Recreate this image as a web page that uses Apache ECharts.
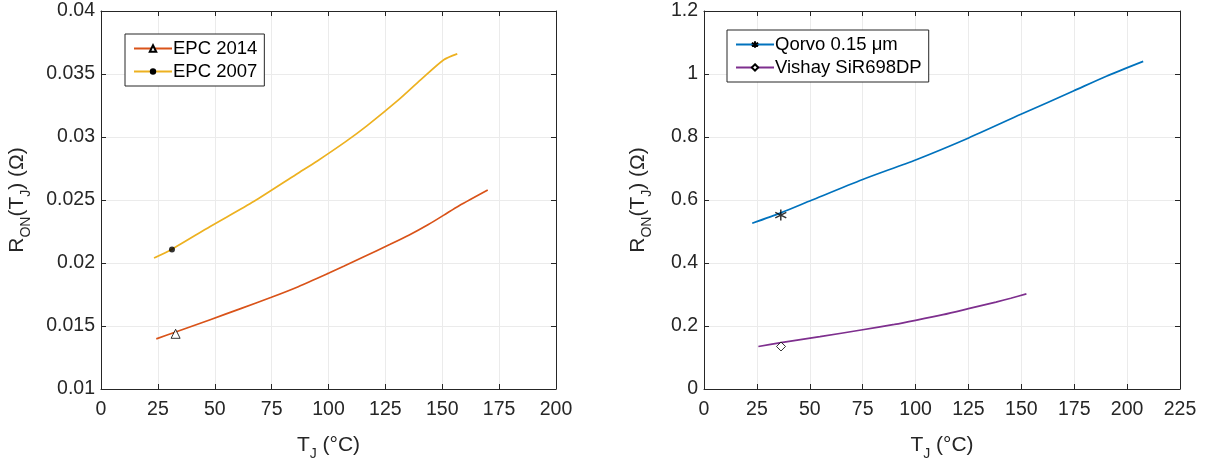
<!DOCTYPE html>
<html>
<head>
<meta charset="utf-8">
<script src="https://cdn.jsdelivr.net/npm/echarts@6/dist/echarts.min.js"></script>
<style>
html,body{margin:0;padding:0;background:#fff;}
#c{width:1217px;height:466px;}
</style>
</head>
<body>
<div id="c"></div>
<script>
// ---- data ----
const epc2014T = [24.3, 32.5, 48, 61.4, 74.9, 86.7, 100.2, 106.9, 115.3, 127.1, 135.5, 143.9, 150.7, 157.4, 170];
const epc2014R = [0.01398, 0.01450, 0.01550, 0.01638, 0.01728, 0.01812, 0.01920, 0.01976, 0.02048, 0.02148, 0.02222, 0.02305, 0.02380, 0.02455, 0.0258];
const epc2007T = [23.3, 31.2, 48, 67.3, 85.9, 95.1, 107.7, 117, 130.5, 140.6, 150.7, 156.6];
const epc2007R = [0.0204, 0.0211, 0.0229, 0.0249, 0.02705, 0.0281, 0.02965, 0.0309, 0.0329, 0.03455, 0.03613, 0.0366];
const qorvoT = [22.8, 36.3, 50.8, 75, 100.3, 125.1, 149.8, 174.6, 190.2, 207.6];
const qorvoR = [0.526, 0.559, 0.599, 0.665, 0.728, 0.797, 0.872, 0.946, 0.993, 1.04];
const vishayT = [25.7, 36.4, 54.8, 75, 90, 100, 113, 125, 138, 145, 152.4];
const vishayR = [0.135, 0.147, 0.166, 0.188, 0.205, 0.218, 0.236, 0.255, 0.276, 0.288, 0.302];
// measured markers [T, R]
const epc2014Mark = [32.8, 0.01438];
const epc2007Mark = [31.2, 0.02107];
const qorvoMark = [36.3, 0.552];
const vishayMark = [36.4, 0.135];
// ticks
const leftXTicks = ['0','25','50','75','100','125','150','175','200'];
const leftYTicks = ['0.01','0.015','0.02','0.025','0.03','0.035','0.04'];
const rightXTicks = ['0','25','50','75','100','125','150','175','200','225'];
const rightYTicks = ['0','0.2','0.4','0.6','0.8','1','1.2'];
const names = ['EPC 2014', 'EPC 2007', 'Qorvo 0.15 μm', 'Vishay SiR698DP'];

const pair = (a, b) => a.map((v, i) => [v, b[i]]);
const fmt = ticks => v => { const t = ticks.find(s => Math.abs(parseFloat(s) - v) < 1e-9); return t === undefined ? '' : t; };

const TXT = '#262626';
const FONT = 'Liberation Sans';
const asterisk = 'path://M0,-5L0,5M-4.33,-2.5L4.33,2.5M-4.33,2.5L4.33,-2.5';

function xAx(gi, max, ticks) {
  return [{
    type: 'value', gridIndex: gi, min: 0, max: max, interval: 25,
    axisLine: {show: true, onZero: false, lineStyle: {color: TXT, width: 1}},
    axisTick: {show: true, inside: true, length: 5, lineStyle: {color: TXT}},
    axisLabel: {color: TXT, fontSize: 19.5, fontFamily: FONT, margin: 11, formatter: fmt(ticks)},
    splitLine: {show: true, lineStyle: {color: '#ebebeb', width: 1}},
    name: '{m|T}{s|J}{m| (°C)}', nameLocation: 'middle', nameGap: 40,
    nameTextStyle: {rich: {
      m: {fontSize: 21, fontFamily: FONT, color: TXT, lineHeight: 32, verticalAlign: 'middle'},
      s: {fontSize: 14, fontFamily: FONT, color: TXT, lineHeight: 32, verticalAlign: 'bottom'}
    }}
  }, {
    type: 'value', gridIndex: gi, min: 0, max: max, interval: 25, position: 'top',
    axisLine: {show: true, onZero: false, lineStyle: {color: TXT, width: 1}},
    axisTick: {show: true, inside: true, length: 5, lineStyle: {color: TXT}},
    axisLabel: {show: false}, splitLine: {show: false}
  }];
}
function yAx(gi, min, max, itv, ticks) {
  return [{
    type: 'value', gridIndex: gi, min: min, max: max, interval: itv,
    axisLine: {show: true, onZero: false, lineStyle: {color: TXT, width: 1}},
    axisTick: {show: true, inside: true, length: 5, lineStyle: {color: TXT}},
    axisLabel: {color: TXT, fontSize: 19.5, fontFamily: FONT, margin: 6, formatter: fmt(ticks)},
    splitLine: {show: true, lineStyle: {color: '#ebebeb', width: 1}},
    name: '{m|R}{s|ON}{m|(T}{s|J}{m|) (Ω)}', nameLocation: 'middle', nameRotate: 90,
    nameGap: gi === 0 ? 68 : 50,
    nameTextStyle: {rich: {
      m: {fontSize: 21, fontFamily: FONT, color: TXT, lineHeight: 32, verticalAlign: 'middle'},
      s: {fontSize: 14, fontFamily: FONT, color: TXT, lineHeight: 32, verticalAlign: 'bottom'}
    }}
  }, {
    type: 'value', gridIndex: gi, min: min, max: max, interval: itv, position: 'right',
    axisLine: {show: true, onZero: false, lineStyle: {color: TXT, width: 1}},
    axisTick: {show: true, inside: true, length: 5, lineStyle: {color: TXT}},
    axisLabel: {show: false}, splitLine: {show: false}
  }];
}

function lineSeries(name, xi, yi, data, color, symbol, symStyle, symSize) {
  return {
    name: name, type: 'line', xAxisIndex: xi, yAxisIndex: yi, data: data,
    symbol: symbol, symbolSize: symSize, showSymbol: false,
    smooth: 0.25,
    lineStyle: {color: color, width: 1.7},
    itemStyle: symStyle, emphasis: {disabled: true}, animation: false, z: 2
  };
}
function markSeries(xi, yi, pt, symbol, symStyle, size) {
  return {
    type: 'scatter', xAxisIndex: xi, yAxisIndex: yi, data: [pt],
    symbol: symbol, symbolSize: size, itemStyle: symStyle,
    emphasis: {disabled: true}, animation: false, z: 5
  };
}

const triStyle = {color: '#fff', borderColor: '#000', borderWidth: 1};
const dotStyle = {color: '#000', borderWidth: 0};
const starStyle = {color: 'none', borderColor: '#000', borderWidth: 1.5};
const diaStyle = {color: '#fff', borderColor: '#000', borderWidth: 1};

const legendBase = {
  orient: 'vertical', itemWidth: 38, itemHeight: 8, itemGap: 4,
  padding: [5, 7, 5, 8], backgroundColor: '#fff',
  borderColor: TXT, borderWidth: 1, borderRadius: 0,
  textStyle: {color: '#000', fontSize: 18.5, fontFamily: FONT, padding: [0, 0, 0, -4]},
  selectedMode: false
};

const option = {
  animation: false,
  grid: [
    {left: 101, top: 11, width: 455, height: 384, containLabel: false},
    {left: 704, top: 11, width: 476, height: 384, containLabel: false}
  ],
  xAxis: [...xAx(0, 200, leftXTicks), ...xAx(1, 225, rightXTicks)],
  yAxis: [...yAx(0, 0.01, 0.04, 0.005, leftYTicks), ...yAx(1, 0, 1.2, 0.2, rightYTicks)],
  legend: [
    Object.assign({}, legendBase, {left: 125, top: 34, data: [names[0], names[1]]}),
    Object.assign({}, legendBase, {left: 727, top: 30, data: [names[2], names[3]]})
  ],
  series: [
    lineSeries(names[0], 0, 0, pair(epc2014T, epc2014R), '#D95319', 'triangle', triStyle, 8),
    lineSeries(names[1], 0, 0, pair(epc2007T, epc2007R), '#EDB120', 'circle', dotStyle, 6),
    markSeries(0, 0, epc2014Mark, 'triangle', triStyle, 9),
    markSeries(0, 0, epc2007Mark, 'circle', dotStyle, 6),
    lineSeries(names[2], 2, 2, pair(qorvoT, qorvoR), '#0072BD', asterisk, starStyle, 10),
    lineSeries(names[3], 2, 2, pair(vishayT, vishayR), '#7E2F8E', 'diamond', diaStyle, 8),
    markSeries(2, 2, qorvoMark, asterisk, starStyle, 11),
    markSeries(2, 2, vishayMark, 'diamond', diaStyle, 9)
  ]
};

const chart = echarts.init(document.getElementById('c'), null, {renderer: 'canvas'});
chart.setOption(option);
</script>
</body>
</html>
